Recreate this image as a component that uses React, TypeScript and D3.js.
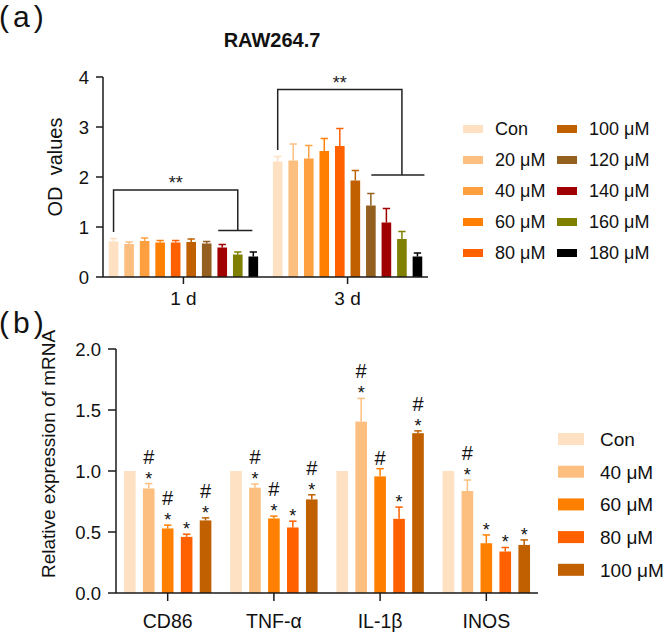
import React from 'react';
import * as d3 from 'd3';

const FONT = "'Liberation Sans', Arial, sans-serif";

// ---- panel (a) data ----
const groupsA = ['1 d', '3 d'];
const seriesA = ['Con', '20 μM', '40 μM', '60 μM', '80 μM', '100 μM', '120 μM', '140 μM', '160 μM', '180 μM'];
const colorsA = ['#FEE0C2', '#FDBF80', '#FEA040', '#FF8000', '#FF6000', '#C06000', '#946020', '#A00000', '#808000', '#000000'];
const meanA1d = [0.71, 0.66, 0.72, 0.69, 0.69, 0.70, 0.67, 0.59, 0.45, 0.41];
const sdA1d = [0.06, 0.04, 0.06, 0.04, 0.04, 0.06, 0.04, 0.06, 0.05, 0.09];
const meanA3d = [2.31, 2.33, 2.37, 2.52, 2.62, 1.93, 1.43, 1.09, 0.76, 0.41];
const sdA3d = [0.10, 0.33, 0.26, 0.25, 0.35, 0.20, 0.24, 0.28, 0.15, 0.07];
const ticksA = [0, 1, 2, 3, 4];

// brackets: positions in bar-index units inside the group
const bracketsA = [
  { group: '1 d', left: 0, right: 8, top: 1.74, leftEnd: 0.9, footY: 0.93, footFrom: 6.74, footTo: 8.94, label: '**' },
  { group: '3 d', left: 0, right: 8, top: 3.75, leftEnd: 2.54, footY: 2.04, footFrom: 6.03, footTo: 9.45, label: '**' },
];

// ---- panel (b) data ----
const groupsB = ['CD86', 'TNF-α', 'IL-1β', 'INOS'];
const seriesB = ['Con', '40 μM', '60 μM', '80 μM', '100 μM'];
const colorsB = ['#FEE0C2', '#FDBF80', '#FF8000', '#FF6000', '#C06000'];
const meanCD86 = [1.0, 0.857, 0.529, 0.46, 0.595];
const sdCD86 = [0, 0.04, 0.027, 0.022, 0.021];
const meanTNF = [1.0, 0.863, 0.611, 0.537, 0.767];
const sdTNF = [0, 0.03, 0.019, 0.052, 0.038];
const meanIL1b = [1.0, 1.405, 0.956, 0.608, 1.31];
const sdIL1b = [0, 0.19, 0.063, 0.096, 0.019];
const meanINOS = [1.0, 0.836, 0.408, 0.34, 0.394];
const sdINOS = [0, 0.09, 0.068, 0.033, 0.041];
const marksCD86 = ['', '#*', '#*', '*', '#*'];
const marksTNF = ['', '#*', '#*', '*', '#*'];
const marksIL1b = ['', '#*', '#', '*', '#*'];
const marksINOS = ['', '#*', '*', '*', '*'];
const ticksB = [0, 0.5, 1.0, 1.5, 2.0];

const dataA = [
  { g: '1 d', mean: meanA1d, sd: sdA1d },
  { g: '3 d', mean: meanA3d, sd: sdA3d },
];
const dataB = [
  { g: 'CD86', mean: meanCD86, sd: sdCD86, marks: marksCD86 },
  { g: 'TNF-α', mean: meanTNF, sd: sdTNF, marks: marksTNF },
  { g: 'IL-1β', mean: meanIL1b, sd: sdIL1b, marks: marksIL1b },
  { g: 'INOS', mean: meanINOS, sd: sdINOS, marks: marksINOS },
];

const AXIS = '#1a1a1a';

export default function App() {
  // panel a scales
  const xA = d3.scaleBand<string>().domain(groupsA).range([103, 428]).paddingInner(0.09).paddingOuter(0.035);
  const xAi = d3.scaleBand<string>().domain(seriesA).range([0, xA.bandwidth()]).paddingInner(0.38).paddingOuter(0);
  const yA = d3.scaleLinear().domain([0, 4]).range([277, 77]);
  const bwA = xAi.bandwidth();
  const stepA = xAi.step();
  const posA = (g: string, p: number) => (xA(g) as number) + p * stepA + bwA / 2;

  // panel b scales
  const xB = d3.scaleBand<string>().domain(groupsB).range([116, 538]).paddingInner(0.177).paddingOuter(0.075);
  const xBi = d3.scaleBand<string>().domain(seriesB).range([0, xB.bandwidth()]).paddingInner(0.386).paddingOuter(0);
  const yB = d3.scaleLinear().domain([0, 2]).range([593, 349]);
  const bwB = xBi.bandwidth();
  const fmtB = d3.format('.1f');

  return (
    <svg width={664} height={632} style={{ position: 'absolute', left: 0, top: 0, background: '#fff' }} fontFamily={FONT}>
      <rect width={664} height={632} fill="#fff" />
      {/* ---------- panel a ---------- */}
      <text x={-1} y={27} fontSize={30} letterSpacing={4} fill="#111">(a)</text>
      <text x={272} y={47} fontSize={20} fontWeight="bold" textAnchor="middle" fill="#111">RAW264.7</text>
      <text transform="translate(62,167) rotate(-90)" fontSize={20} textAnchor="middle" fill="#111" style={{ whiteSpace: 'pre' }}>OD  values</text>

      {dataA.map((d) => (
        <g key={d.g}>
          {seriesA.map((s, i) => {
            const x = (xA(d.g) as number) + (xAi(s) as number);
            const top = yA(d.mean[i]);
            const et = yA(d.mean[i] + d.sd[i]);
            const cx = x + bwA / 2;
            return (
              <g key={s}>
                <rect x={x} y={top} width={bwA} height={yA(0) - top} fill={colorsA[i]} />
                <line x1={cx} x2={cx} y1={top} y2={et} stroke={colorsA[i]} strokeWidth={1.5} />
                <line x1={cx - bwA * 0.38} x2={cx + bwA * 0.38} y1={et} y2={et} stroke={colorsA[i]} strokeWidth={1.5} />
              </g>
            );
          })}
        </g>
      ))}

      {bracketsA.map((b) => {
        const xl = posA(b.group, b.left);
        const xr = posA(b.group, b.right);
        return (
          <g key={b.group} stroke="#222" strokeWidth={1.5} fill="none">
            <polyline points={`${xl},${yA(b.leftEnd)} ${xl},${yA(b.top)} ${xr},${yA(b.top)} ${xr},${yA(b.footY)}`} />
            <line x1={posA(b.group, b.footFrom)} x2={posA(b.group, b.footTo)} y1={yA(b.footY)} y2={yA(b.footY)} />
            <text x={(xl + xr) / 2} y={yA(b.top) - 1} fontSize={18} textAnchor="middle" fill="#222" stroke="none">{b.label}</text>
          </g>
        );
      })}

      {/* axes a */}
      <line x1={103} x2={103} y1={yA(4)} y2={yA(0)} stroke={AXIS} strokeWidth={1.5} />
      <line x1={103} x2={428} y1={yA(0)} y2={yA(0)} stroke={AXIS} strokeWidth={1.5} />
      {ticksA.map((t) => (
        <g key={t}>
          <line x1={96} x2={103} y1={yA(t)} y2={yA(t)} stroke={AXIS} strokeWidth={1.5} />
          <text x={89} y={yA(t) + 6.5} fontSize={18.5} textAnchor="end" fill="#111">{t}</text>
        </g>
      ))}
      {groupsA.map((g) => {
        const cx = (xA(g) as number) + xA.bandwidth() / 2;
        return (
          <g key={g}>
            <line x1={cx} x2={cx} y1={yA(0)} y2={yA(0) + 7} stroke={AXIS} strokeWidth={1.5} />
            <text x={cx} y={305} fontSize={19} textAnchor="middle" fill="#111">{g}</text>
          </g>
        );
      })}

      {/* legend a */}
      {seriesA.map((s, i) => {
        const col = Math.floor(i / 5);
        const row = i % 5;
        const cy = 129 + row * 31;
        const sx = col === 0 ? 463 : 557;
        return (
          <g key={s}>
            <rect x={sx} y={cy - 4} width={20} height={8} fill={colorsA[i]} />
            <text x={sx + 32} y={cy + 6} fontSize={18} fill="#111">{s}</text>
          </g>
        );
      })}

      {/* ---------- panel b ---------- */}
      <text x={-1} y={333} fontSize={30} letterSpacing={4} fill="#111">(b)</text>
      <text transform="translate(55,454) rotate(-90)" fontSize={19} textAnchor="middle" fill="#111">Relative expression of mRNA</text>

      {dataB.map((d) => (
        <g key={d.g}>
          {seriesB.map((s, i) => {
            const x = (xB(d.g) as number) + (xBi(s) as number);
            const top = yB(d.mean[i]);
            const et = yB(d.mean[i] + d.sd[i]);
            const cx = x + bwB / 2;
            const m = d.marks[i];
            return (
              <g key={s}>
                <rect x={x} y={top} width={bwB} height={yB(0) - top} fill={colorsB[i]} />
                {d.sd[i] > 0 && (
                  <>
                    <line x1={cx} x2={cx} y1={top} y2={et} stroke={colorsB[i]} strokeWidth={1.5} />
                    <line x1={cx - bwB * 0.32} x2={cx + bwB * 0.32} y1={et} y2={et} stroke={colorsB[i]} strokeWidth={1.5} />
                  </>
                )}
                {m.includes('*') && (
                  <text x={cx} y={et + 1} fontSize={18} textAnchor="middle" fill="#111">*</text>
                )}
                {m.includes('#') && (
                  <text x={cx} y={m.includes('*') ? et - 20 : et - 4} fontSize={20} textAnchor="middle" fill="#111">#</text>
                )}
              </g>
            );
          })}
        </g>
      ))}

      {/* axes b */}
      <line x1={116} x2={116} y1={yB(2)} y2={yB(0)} stroke={AXIS} strokeWidth={1.5} />
      <line x1={116} x2={538} y1={yB(0)} y2={yB(0)} stroke={AXIS} strokeWidth={1.5} />
      {ticksB.map((t) => (
        <g key={t}>
          <line x1={108} x2={116} y1={yB(t)} y2={yB(t)} stroke={AXIS} strokeWidth={1.5} />
          <text x={101} y={yB(t) + 6.5} fontSize={18.5} textAnchor="end" fill="#111">{fmtB(t)}</text>
        </g>
      ))}
      {groupsB.map((g) => {
        const cx = (xB(g) as number) + xB.bandwidth() / 2;
        return (
          <g key={g}>
            <line x1={cx} x2={cx} y1={yB(0)} y2={yB(0) + 8} stroke={AXIS} strokeWidth={1.5} />
            <text x={cx} y={628} fontSize={19.5} textAnchor="middle" fill="#111">{g}</text>
          </g>
        );
      })}

      {/* legend b */}
      {seriesB.map((s, i) => {
        const cy = 439 + i * 32.7;
        return (
          <g key={s}>
            <rect x={558} y={cy - 6} width={26} height={12} fill={colorsB[i]} />
            <text x={600} y={cy + 7} fontSize={19} fill="#111">{s}</text>
          </g>
        );
      })}
    </svg>
  );
}
